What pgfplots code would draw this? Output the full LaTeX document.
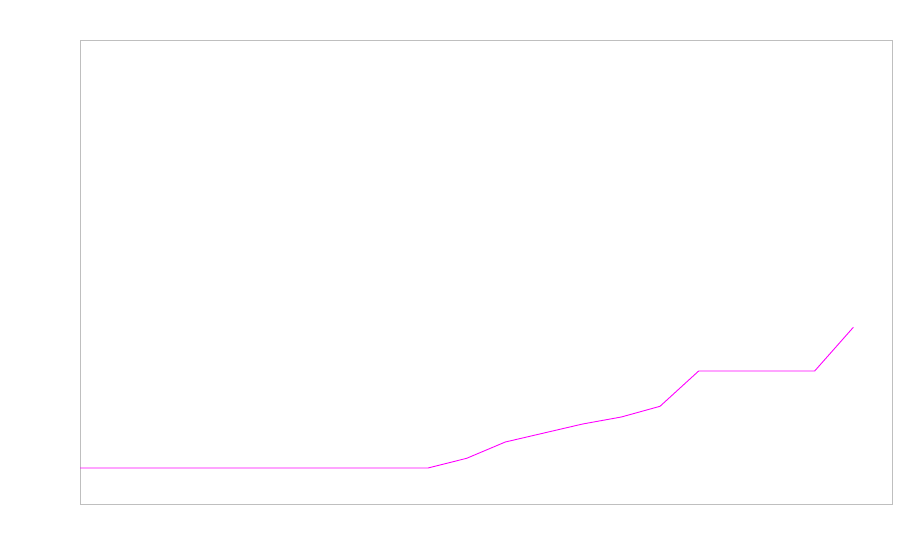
\documentclass[border=0pt]{standalone}
\usepackage{pgfplots}
\pgfplotsset{compat=1.18}
\begin{document}
\begin{tikzpicture}
\path[use as bounding box] (0,0) rectangle (900bp,560bp);
\begin{axis}[
  at={(80bp,56bp)}, anchor=south west,
  scale only axis, width=812bp, height=464bp,
  xmin=0, xmax=21, ymin=0, ymax=464,
  xtick=\empty, ytick=\empty,
  axis line style={draw=black!25, line width=0.8bp},
]
\addplot[color={rgb,255:red,255;green,0;blue,255}, line width=0.9bp, mark=none] coordinates {
(0,36) (1,36) (2,36) (3,36) (4,36) (5,36) (6,36) (7,36) (8,36) (9,36)
(10,45.7) (11,62) (12,71) (13,80) (14,87) (15,97.7) (16,133) (17,133) (18,133) (19,133) (20,176.7)
};
\end{axis}
\end{tikzpicture}
\end{document}
